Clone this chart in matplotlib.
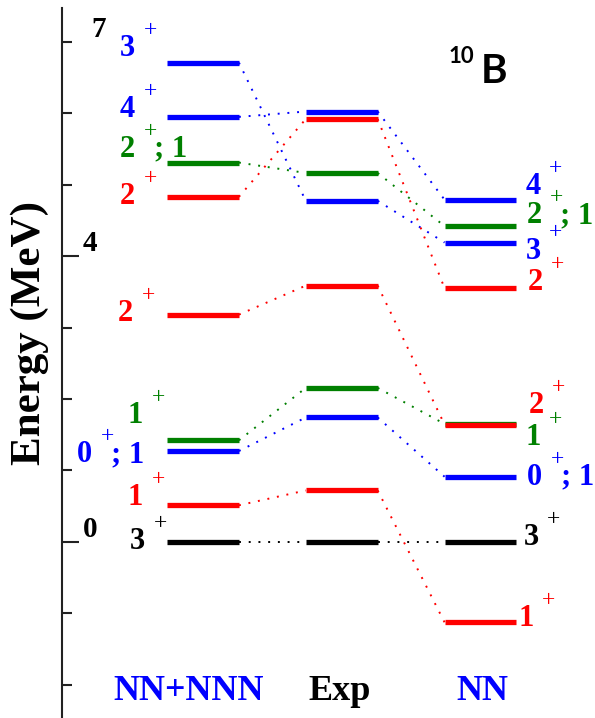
import matplotlib
matplotlib.use('Agg')
import matplotlib.pyplot as plt

# ---------------- data ----------------
columns = ['NN+NNN', 'Exp', 'NN']
column_colors = ['blue', 'black', 'blue']
spins = ['3', '1', '0', '1', '2', '3', '2', '2', '4']
parities = ['+', '+', '+', '+', '+', '+', '+', '+', '+']
isospin_suffix = ['', '', '; 1', '', '', '', '; 1', '', '']
level_colors = ['black', 'red', 'blue', 'green', 'red', 'blue', 'green', 'red', 'blue']
e_nnn = [0.00, 0.51, 1.27, 1.42, 3.18, 6.71, 5.31, 4.83, 5.95]
e_exp = [0.000, 0.718, 1.740, 2.154, 3.587, 4.774, 5.164, 5.920, 6.025]
e_nn = [0.00, -1.13, 0.91, 1.65, 1.64, 4.19, 4.42, 3.55, 4.79]
ytick_values = [0, 4, 7]
ytick_labels = ['0', '4', '7']
nucleus_mass = '10'
nucleus_symbol = 'B'

# ---------------- layout (pixels) ----------------
W, H = 595, 718
PX = 0.72  # points per pixel at dpi 100
nnn_dx = [-22, -24, -75, -24, -34, -32, -32, -32, -32]
nnn_dy = [3, 10, -1, 27, 4, 17, 16, 3, 10]
nn_dx = [22, 17, 26, 24, 27, 24, 25, 26, 24]
nn_dy = [7, 6, 2, -11, 22, -6, 13, 8, 16]
suffix_gap = 19
tick_label_dx = [28, 28, 37]
col_label_x = [189, 340, 482]

GREEN = '#008000'
cmap = {'black': 'black', 'red': '#ff0000', 'blue': '#0000ff', 'green': GREEN}
SERIF = 'Liberation Serif'

fig = plt.figure(figsize=(W / 100, H / 100), dpi=100)
ax = fig.add_axes([62 / W, 0, 1 - 62 / W, (H - 8) / H])
ax.set_ylim(-(H - 541.7) / 71.4, (541.7 - 8) / 71.4)
ax.set_xlim(-1.016, 2.825)
hw = 0.259

energies = [e_nnn, e_exp, e_nn]

# connectors
for i in range(len(spins)):
    c = cmap[level_colors[i]]
    for k in range(2):
        ax.plot([k + hw, k + 1 - hw], [energies[k][i], energies[k + 1][i]],
                ls=(0, (1, 4)), lw=1.4, color=c, zorder=1)

# level lines
for k in range(3):
    for i in range(len(spins)):
        ax.plot([k - hw, k + hw], [energies[k][i], energies[k][i]],
                lw=3.8, color=cmap[level_colors[i]], solid_capstyle='butt', zorder=2)


def label(x, e, dx, dy, i):
    c = cmap[level_colors[i]]
    ax.annotate(spins[i], xy=(x, e), xytext=(dx * PX, (dy - 10) * PX),
                textcoords='offset points', ha='right', va='baseline',
                fontsize=22, fontweight='bold', family=SERIF, color=c)
    ax.annotate(parities[i], xy=(x, e), xytext=((dx + 15) * PX, (dy + 10) * PX),
                textcoords='offset points', ha='center', va='baseline',
                fontsize=17, family=SERIF, color=c)
    if isospin_suffix[i]:
        ax.annotate(isospin_suffix[i], xy=(x, e),
                    xytext=((dx + suffix_gap) * PX, (dy - 10) * PX),
                    textcoords='offset points', ha='left', va='baseline',
                    fontsize=22, fontweight='bold', family=SERIF, color=c)


for i in range(len(spins)):
    label(0 - hw, e_nnn[i], nnn_dx[i], nnn_dy[i], i)
    label(2 + hw, e_nn[i], nn_dx[i], nn_dy[i], i)

# axis styling
for s in ['top', 'right', 'bottom']:
    ax.spines[s].set_visible(False)
ax.spines['left'].set_linewidth(1.5)
ax.spines['left'].set_color('#222222')
ax.set_xticks([])
ax.set_yticks([0, 4])
ax.set_yticks([-2, -1, 1, 2, 3, 5, 6, 7], minor=True)
ax.tick_params(axis='y', which='major', direction='in', length=12, width=1.5,
               color='#222222', labelleft=False)
ax.tick_params(axis='y', which='minor', direction='in', length=7, width=1.5,
               color='#222222', labelleft=False)

for v, t, dx in zip(ytick_values, ytick_labels, tick_label_dx):
    ax.annotate(t, xy=(0, v), xycoords=('axes fraction', 'data'),
                xytext=(dx * PX, 5 * PX), textcoords='offset points',
                ha='center', va='baseline', fontsize=21, fontweight='bold',
                family=SERIF, color='black')

fig.text(30 / W, 1 - 333 / H, 'Energy (MeV)', rotation=90, ha='center', va='center',
         fontsize=31, fontweight='bold', family=SERIF)

for name, col, x in zip(columns, column_colors, col_label_x):
    fig.text(x / W, 1 - 700 / H, name, ha='center', va='baseline', fontsize=26,
             fontweight='bold', family=SERIF, color=col)

fig.text(449 / W, 1 - 63 / H, nucleus_mass, ha='left', va='baseline', fontsize=16,
         fontweight='bold', family='Lato')
fig.text(481 / W, 1 - 83 / H, nucleus_symbol, ha='left', va='baseline', fontsize=29,
         fontweight='bold', family='Lato')

fig.savefig('out.png', dpi=100)
